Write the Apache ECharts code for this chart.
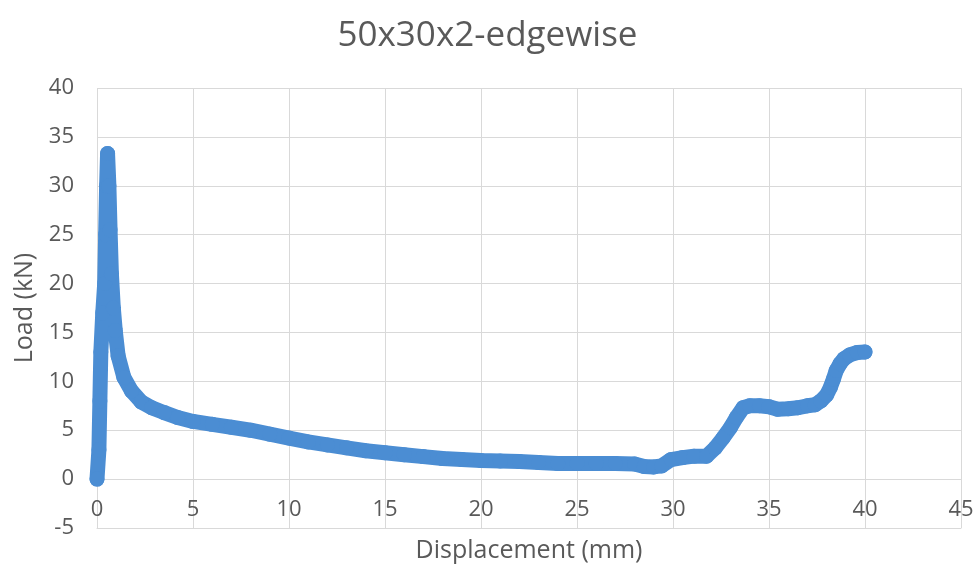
<!DOCTYPE html>
<html>
<head>
<meta charset="utf-8">
<script src="https://cdn.jsdelivr.net/npm/echarts@6/dist/echarts.min.js"></script>
<style>
  html, body { margin: 0; padding: 0; background: #ffffff; }
  #chart { width: 975px; height: 565px; }
</style>
</head>
<body>
<div id="chart"></div>
<script>
// Load–displacement record of the 50x30x2 specimen, loaded edgewise
const chartTitle = '50x30x2-edgewise';
const xAxisName = 'Displacement (mm)';
const yAxisName = 'Load (kN)';

// Displacement readings (mm)
const displacement = [
  0, 0.1, 0.15, 0.2, 0.3, 0.4, 0.45, 0.5, 0.55,
  0.62, 0.68, 0.75, 0.85, 0.95, 1.1, 1.4, 1.8, 2.3, 2.85, 3.5, 4.2, 5,
  6, 7, 8, 9, 10, 11, 12, 13, 14, 15, 16, 17, 18, 19, 20,
  21, 22, 23, 24, 25, 26, 27, 28, 28.5, 29, 29.4, 29.9, 30.5, 31.1, 31.75,
  32.2, 32.6, 33, 33.3, 33.65, 34, 34.5, 35, 35.45, 36, 36.5, 37, 37.4, 37.7,
  38, 38.2, 38.35, 38.5, 38.7, 38.9, 39.2, 39.6, 40
];

// Load readings (kN)
const load = [
  0, 3, 8, 13, 17, 20, 25, 30, 33.3,
  30, 25.5, 21, 17.5, 15.2, 12.6, 10.4, 9.0, 7.9, 7.3, 6.8, 6.3, 5.9,
  5.6, 5.3, 5.0, 4.6, 4.2, 3.8, 3.5, 3.2, 2.9, 2.7, 2.5, 2.3, 2.1, 2.0, 1.9,
  1.85, 1.8, 1.7, 1.6, 1.6, 1.6, 1.6, 1.55, 1.3, 1.25, 1.35, 2.0, 2.2, 2.35, 2.35,
  3.2, 4.2, 5.3, 6.3, 7.3, 7.5, 7.5, 7.4, 7.15, 7.2, 7.3, 7.5, 7.6, 8.0,
  8.6, 9.4, 10.2, 11.1, 11.8, 12.3, 12.7, 12.95, 13.0
];

const xTicks = { min: 0, max: 45, interval: 5 };
const yTicks = { min: -5, max: 40, interval: 5 };

const points = displacement.map((d, i) => [d, load[i]]);

const chart = echarts.init(document.getElementById('chart'), null, { renderer: 'canvas' });
const textColor = '#595959';
const gridColor = '#d9d9d9';
const markColor = '#4b8dd3';
const font = '"Open Sans", "Noto Sans", sans-serif';

chart.setOption({
  animation: false,
  backgroundColor: '#ffffff',
  title: {
    text: chartTitle,
    left: 'center',
    top: 14,
    textStyle: { fontFamily: font, fontWeight: 'normal', fontSize: 35, color: textColor }
  },
  grid: {
    left: 97, right: 14, top: 88, bottom: 37,
    containLabel: false,
    outerBoundsMode: 'none'
  },
  xAxis: {
    type: 'value',
    min: xTicks.min, max: xTicks.max, interval: xTicks.interval,
    name: xAxisName,
    nameLocation: 'middle',
    nameGap: 10,
    nameTextStyle: { fontFamily: font, fontSize: 25, color: textColor },
    axisLine: { show: true, onZero: false, lineStyle: { color: gridColor, width: 1 } },
    axisTick: { show: false },
    // tick labels sit just under the zero line, inside the plot band below it
    axisLabel: { fontFamily: font, fontSize: 22, color: textColor, margin: -29 },
    splitLine: { show: true, lineStyle: { color: gridColor, width: 1 } }
  },
  yAxis: {
    type: 'value',
    min: yTicks.min, max: yTicks.max, interval: yTicks.interval,
    name: yAxisName,
    nameLocation: 'middle',
    nameGap: 60,
    nameRotate: 90,
    nameTextStyle: { fontFamily: font, fontSize: 25, color: textColor },
    axisLine: { show: false },
    axisTick: { show: false },
    axisLabel: { fontFamily: font, fontSize: 22, color: textColor, margin: 23 },
    splitLine: { show: true, lineStyle: { color: gridColor, width: 1 } }
  },
  series: [{
    type: 'line',
    data: points,
    symbol: 'circle',
    symbolSize: 15,
    showSymbol: true,
    itemStyle: { color: markColor },
    lineStyle: { color: markColor, width: 15, cap: 'round', join: 'round' },
    z: 3
  }]
});
</script>
</body>
</html>
